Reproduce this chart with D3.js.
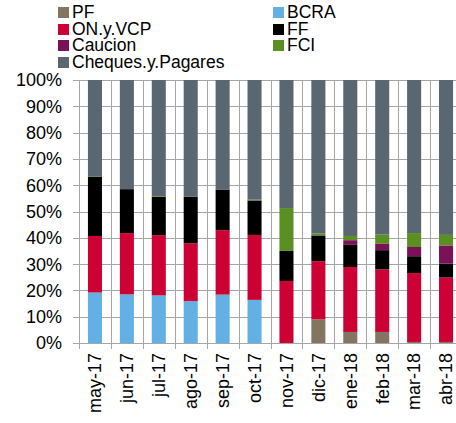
<!DOCTYPE html>
<html>
<head>
<meta charset="utf-8">
<script src="https://cdn.jsdelivr.net/npm/d3@7"></script>
<style>
  body { margin: 0; background: #fff; }
  text { font-family: "Liberation Sans", Arial, sans-serif; fill: #000; }
</style>
</head>
<body>
<svg id="chart" width="456" height="423"></svg>
<script>
// values, in percent of total
const months = ["may-17", "jun-17", "jul-17", "ago-17", "sep-17", "oct-17",
  "nov-17", "dic-17", "ene-18", "feb-18", "mar-18", "abr-18"];
const seriesNames = ["PF", "BCRA", "ON.y.VCP", "FF", "Caucion", "FCI", "Cheques.y.Pagares"];
const colors = ["#847563", "#62b0e4", "#cc0033", "#000000", "#7b1157", "#5a8f22", "#5b6770"];

const PF      = [0, 0, 0, 0, 0, 0, 0, 9.0, 4.2, 4.2, 0.4, 0.4];
const BCRA    = [19.2, 18.5, 18.1, 15.9, 18.4, 16.4, 0, 0, 0, 0, 0, 0];
const ON      = [21.5, 23.3, 22.9, 22.0, 24.5, 24.7, 23.6, 22.1, 24.7, 23.8, 26.2, 24.5];
const FF      = [22.6, 16.7, 14.6, 17.7, 15.3, 13.1, 11.4, 9.8, 8.4, 7.3, 6.4, 5.3];
const Caucion = [0, 0, 0, 0, 0, 0, 0, 0, 1.8, 2.4, 3.5, 6.9];
const FCI     = [0.2, 0, 0.3, 0, 0, 0.3, 16.3, 0.7, 1.6, 3.5, 5.3, 4.0];
const Cheques = [36.5, 41.5, 44.1, 44.4, 41.8, 45.5, 48.7, 58.4, 59.3, 58.8, 58.2, 58.9];
const yTicks = [0, 10, 20, 30, 40, 50, 60, 70, 80, 90, 100];

const seriesValues = [PF, BCRA, ON, FF, Caucion, FCI, Cheques];
const rows = months.map((m, i) => {
  const r = { month: m };
  seriesNames.forEach((s, j) => { r[s] = seriesValues[j][i]; });
  return r;
});

const svg = d3.select("#chart");
const plotL = 79, plotR = 462, plotT = 80, plotB = 343;

const x = d3.scaleBand().domain(months).range([plotL, plotR]).paddingInner(0.56).paddingOuter(0.28);
const y = d3.scaleLinear().domain([0, 100]).range([plotB, plotT]);
const gridColor = "#a6a6a6";

// horizontal grid
svg.append("g").selectAll("line").data(yTicks).join("line")
  .attr("x1", plotL).attr("x2", 456)
  .attr("y1", d => Math.round(y(d)) + 0.5).attr("y2", d => Math.round(y(d)) + 0.5)
  .attr("stroke", gridColor).attr("stroke-width", 1);

// vertical grid at category boundaries
const step = x.step();
const bounds = d3.range(months.length + 1).map(i => plotL + i * step);
svg.append("g").selectAll("line").data(bounds).join("line")
  .attr("x1", d => Math.round(d) + 0.5).attr("x2", d => Math.round(d) + 0.5)
  .attr("y1", plotT).attr("y2", plotB + 6)
  .attr("stroke", gridColor).attr("stroke-width", 1);

// y tick marks
svg.append("g").selectAll("line").data(yTicks).join("line")
  .attr("x1", plotL - 6).attr("x2", plotL)
  .attr("y1", d => Math.round(y(d)) + 0.5).attr("y2", d => Math.round(y(d)) + 0.5)
  .attr("stroke", gridColor);

// stacked bars
const stack = d3.stack().keys(seriesNames)(rows);
svg.append("g").selectAll("g").data(stack).join("g")
  .attr("fill", (d, i) => colors[i])
  .selectAll("rect").data(d => d).join("rect")
  .attr("x", d => x(d.data.month))
  .attr("width", x.bandwidth())
  .attr("y", d => y(d[1]))
  .attr("height", d => y(d[0]) - y(d[1]));

// y labels
svg.append("g").selectAll("text").data(yTicks).join("text")
  .attr("x", 62).attr("y", d => y(d))
  .attr("dy", "0.36em")
  .attr("text-anchor", "end")
  .style("font-size", "18px")
  .text(d => d + "%");

// x labels, rotated
svg.append("g").selectAll("text").data(months).join("text")
  .attr("transform", d => `translate(${x(d) + x.bandwidth() / 2},353) rotate(-90)`)
  .attr("dy", "0.35em")
  .attr("text-anchor", "end")
  .style("font-size", "18px")
  .text(d => d);

// legend, two columns
const legendPos = [[58, 12], [273, 12], [58, 29], [273, 29], [58, 45], [273, 45], [58, 62]];
const leg = svg.append("g").selectAll("g").data(seriesNames).join("g")
  .attr("transform", (d, i) => `translate(${legendPos[i][0]},${legendPos[i][1]})`);
leg.append("rect").attr("x", 0).attr("y", -5).attr("width", 11).attr("height", 11)
  .attr("fill", (d, i) => colors[i]);
leg.append("text").attr("x", 14).attr("dy", "0.36em")
  .style("font-size", "17.5px")
  .text(d => d);
</script>
</body>
</html>
